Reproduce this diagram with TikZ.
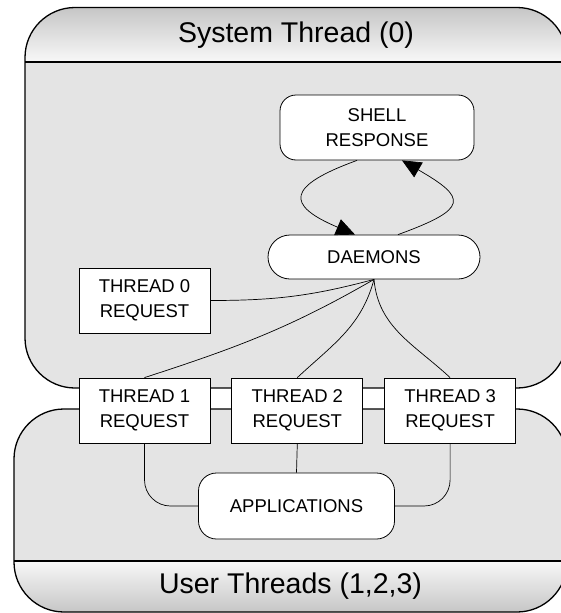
\documentclass[tikz,border=0pt]{standalone}
\usepackage{fontspec}
\setmainfont{Liberation Sans}
\usetikzlibrary{arrows.meta,positioning}
\definecolor{bodyg}{HTML}{E4E4E4}
\definecolor{bandd}{HTML}{C6C6C6}
\definecolor{bandl}{HTML}{F8F8F8}

\begin{document}
\begin{tikzpicture}[x=1pt,y=1pt,node distance=21pt,
    frame/.style={line width=1.3pt,rounded corners=50pt},
    lbl/.style={font=\fontsize{18.5}{25}\selectfont},
    rbox/.style={lbl,draw,fill=white,line width=0.8pt,align=center,inner sep=0pt},
    req/.style={rbox,minimum width=131pt,minimum height=65pt},
    ttl/.style={font=\fontsize{28.5}{34}\selectfont},
    wire/.style={line width=0.7pt},
    arr/.style={wire,-{Triangle[length=19pt,width=17pt]}}]
  \useasboundingbox (0,0) rectangle (560,-613);
  \fill[bodyg,rounded corners=50pt] (25,-7.5) rectangle (567,-388);
  \begin{scope}
    \clip[rounded corners=50pt] (25,-7.5) rectangle (567,-388);
    \shade[top color=bandd,bottom color=bandl] (25,-7.5) rectangle (567,-62);
  \end{scope}
  \draw[frame] (25,-7.5) rectangle (567,-388);
  \draw[line width=1.3pt] (25,-62) -- (567,-62);
  \fill[bodyg,rounded corners=50pt] (14,-409) rectangle (567,-612);
  \begin{scope}
    \clip[rounded corners=50pt] (14,-409) rectangle (567,-612);
    \shade[top color=bandl,bottom color=bandd] (14,-561) rectangle (567,-612);
  \end{scope}
  \draw[frame] (14,-409) rectangle (567,-612);
  \draw[line width=1.3pt] (14,-561) -- (567,-561);
  \node[ttl] (systitle) at (296,-35) {System Thread (0)};
  \node[ttl] (usrtitle) at (290.5,-586.5) {User Threads (1,2,3)};
  \node[rbox,minimum width=194pt,minimum height=65pt,rounded corners=16pt] (shell) at (377,-127.5) {SHELL\\RESPONSE};
  \node[rbox,minimum width=212pt,minimum height=44pt,rounded corners=22pt] (dae) at (374,-257) {DAEMONS};
  \node[req] (t0) at (144.5,-300.5) {THREAD 0\\REQUEST};
  \node[req] (t1) at (144.5,-410.5) {THREAD 1\\REQUEST};
  \node[req,right=of t1] (t2) {THREAD 2\\REQUEST};
  \node[req,right=of t2] (t3) {THREAD 3\\REQUEST};
  \node[rbox,minimum width=196pt,minimum height=66pt,rounded corners=18pt] (app) at (296.5,-506) {APPLICATIONS};
  \draw[arr] ([xshift=-20pt]shell.south) to[out=200,in=157,looseness=2.6] ([xshift=-19pt]dae.north);
  \draw[arr] ([xshift=24pt]dae.north) to[out=20,in=-30,looseness=2.6] ([xshift=25pt]shell.south);
  \foreach \n/\o/\i in {t0.east/195/0,t1.north/210/18,t2.north/255/43,t3.north/275/137}
    \draw[wire] (dae.south) to[out=\o,in=\i] (\n);
  \draw[wire,rounded corners=26pt] (t1.south) |- (app.west);
  \draw[wire] (t2.south) -- (app.north);
  \draw[wire,rounded corners=26pt] (t3.south) |- (app.east);
\end{tikzpicture}
\end{document}
